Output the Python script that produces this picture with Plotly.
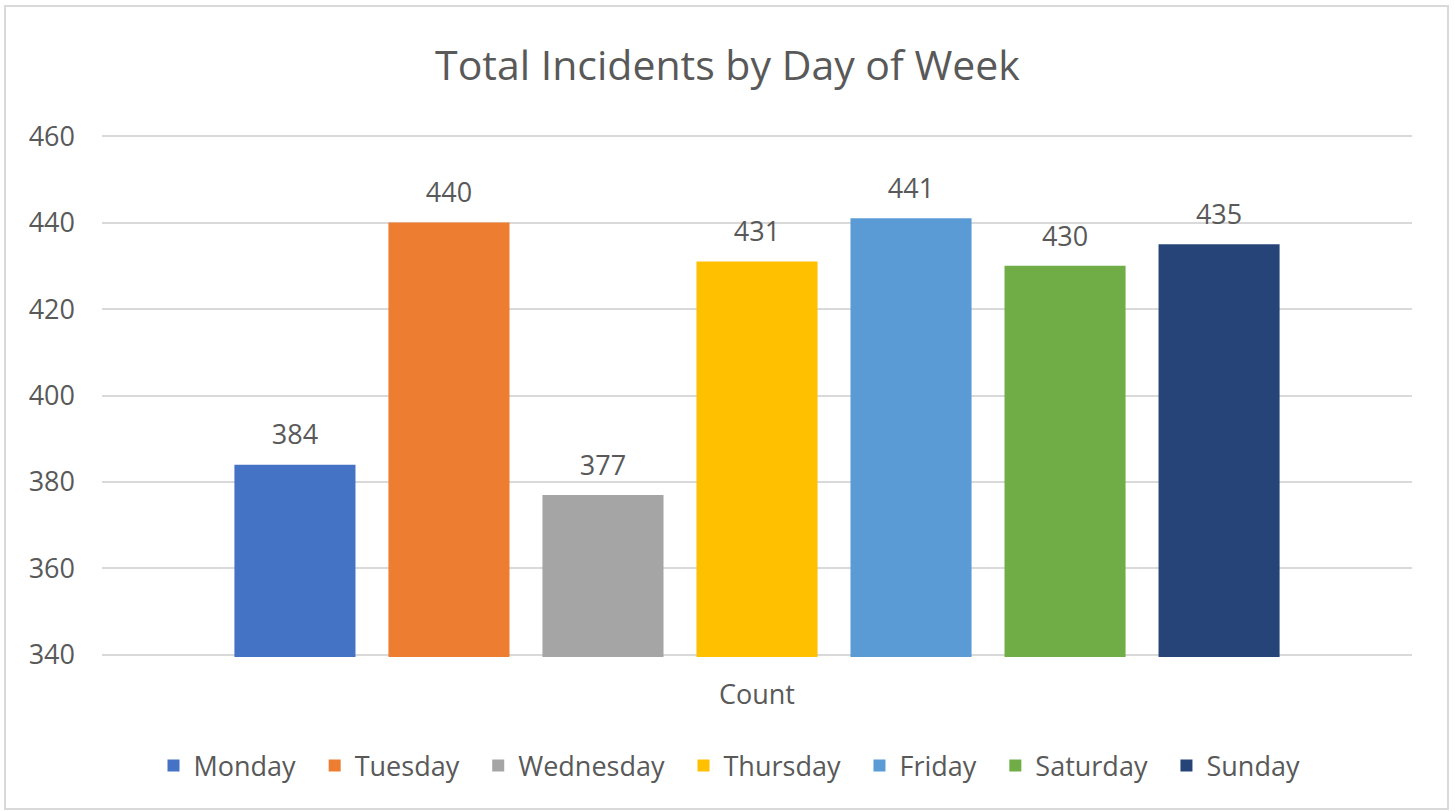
import plotly.graph_objects as go

days = ["Monday", "Tuesday", "Wednesday", "Thursday", "Friday", "Saturday", "Sunday"]
counts = [384, 440, 377, 431, 441, 430, 435]
colors = ["#4472C4", "#ED7D31", "#A5A5A5", "#FFC000", "#5B9BD5", "#70AD47", "#264478"]
category = ["Count"]
y_ticks = [340, 360, 380, 400, 420, 440, 460]

W, H = 1455, 811
ML, MR, MT, MB = 102, 43, 134, 154
FONT = "Open Sans"
GREY = "#595959"
LBL = 27
BARGAP = 0.177

fig = go.Figure()
for d, v, c in zip(days, counts, colors):
    fig.add_trace(go.Bar(
        x=category, y=[v], name=d + "\u00a0\u00a0", marker=dict(color=c, line=dict(width=0)),
        hoverinfo="skip",
    ))
# data labels, grouped to sit over each bar
for d, v in zip(days, counts):
    fig.add_trace(go.Scatter(
        x=category, y=[v], mode="markers+text", text=[str(v)],
        textposition="top center", showlegend=False, hoverinfo="skip",
        marker=dict(size=20, color="rgba(0,0,0,0)"), cliponaxis=False,
        textfont=dict(family=FONT, size=LBL, color=GREY),
    ))

pw, ph = W - ML - MR, H - MT - MB
fig.add_shape(type="rect", xref="paper", yref="paper",
              x0=(5 - ML) / pw, x1=(1448 - ML) / pw,
              y0=(H - MB - 809) / ph, y1=(H - MB - 6) / ph,
              line=dict(color="#D9D9D9", width=2), layer="below")

fig.update_layout(
    width=W, height=H,
    margin=dict(l=ML, r=MR, t=MT, b=MB),
    paper_bgcolor="white", plot_bgcolor="white",
    barmode="group", bargap=BARGAP, bargroupgap=0.214,
    scattermode="group", scattergap=BARGAP,
    title=dict(text="Total Incidents by Day of Week", x=0.5, xanchor="center",
               y=1 - 66 / H, yanchor="middle",
               font=dict(family=FONT, size=41, color=GREY)),
    font=dict(family=FONT, color=GREY),
    legend=dict(orientation="h", x=(736 - ML) / pw, xanchor="center",
                y=-(766 - (H - MB)) / ph, yanchor="middle",
                font=dict(family=FONT, size=LBL, color=GREY),
                itemwidth=30, tracegroupgap=0),
    xaxis=dict(showgrid=False, showline=False, ticks="",
               tickfont=dict(family=FONT, size=LBL, color=GREY),
               ticklabelstandoff=19),
    yaxis=dict(range=[339.5, 460.5], tickvals=y_ticks, showgrid=True,
               gridcolor="#D9D9D9", gridwidth=2, zeroline=False, showline=False,
               ticks="", tickfont=dict(family=FONT, size=LBL, color=GREY),
               ticklabelstandoff=26),
)

fig.write_html("out.html", config={"displayModeBar": False},
               post_script="document.body.style.margin='0';document.body.style.overflow='hidden';")
